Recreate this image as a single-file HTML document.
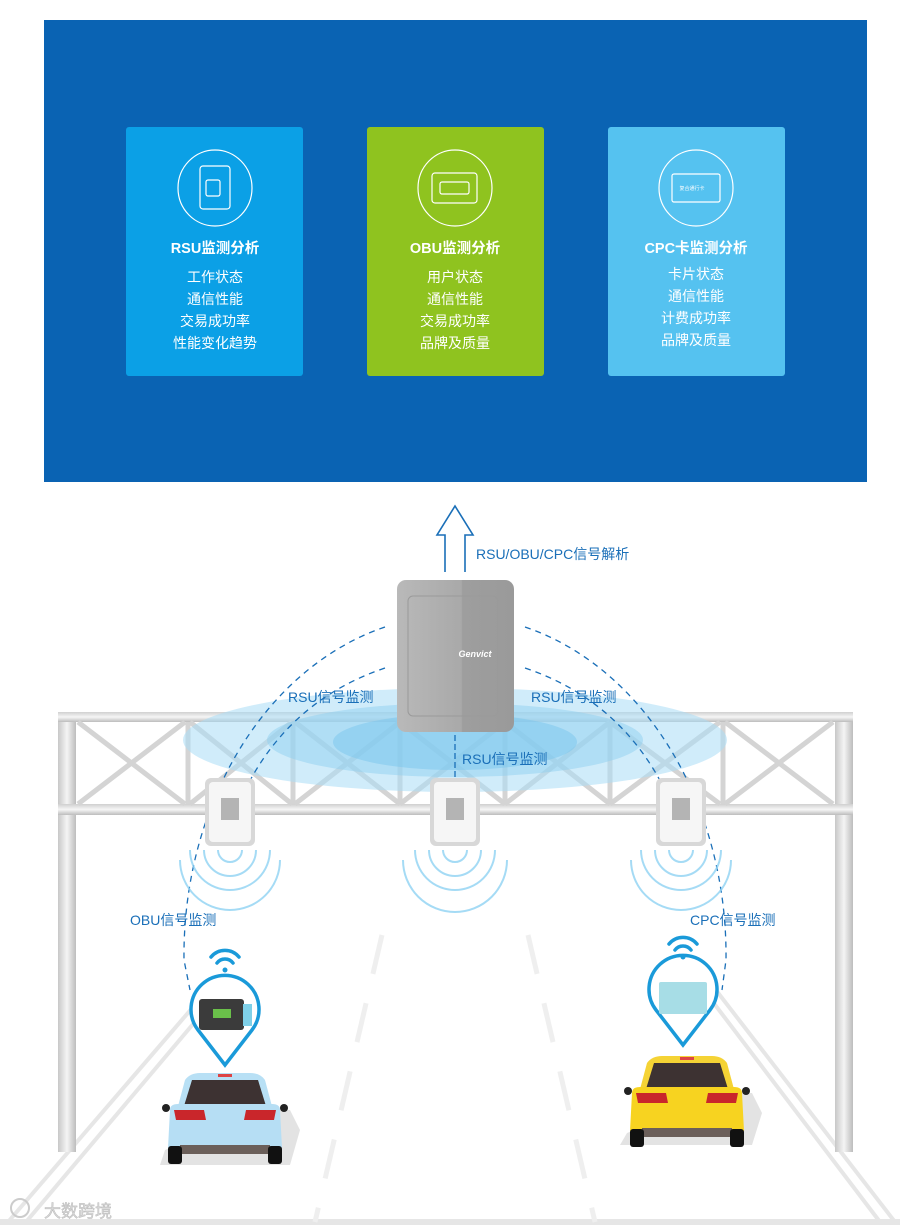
<!DOCTYPE html>
<html><head><meta charset="utf-8"><style>
html,body{margin:0;padding:0;background:#fff;}
svg{display:block;}
text{font-family:"Liberation Sans","Noto Sans CJK SC",sans-serif;}
</style></head><body>
<svg width="900" height="1227" viewBox="0 0 900 1227" xmlns="http://www.w3.org/2000/svg">
<defs>
<linearGradient id="dev" x1="0" y1="0" x2="1" y2="0">
<stop offset="0" stop-color="#b9b9b9"/><stop offset="0.55" stop-color="#a9a9a9"/><stop offset="0.56" stop-color="#9e9e9e"/><stop offset="1" stop-color="#9a9a9a"/>
</linearGradient>
<linearGradient id="post" x1="0" y1="0" x2="1" y2="0">
<stop offset="0" stop-color="#c8c8c8"/><stop offset="0.5" stop-color="#f4f4f4"/><stop offset="1" stop-color="#bdbdbd"/>
</linearGradient>
<linearGradient id="beam" x1="0" y1="0" x2="0" y2="1">
<stop offset="0" stop-color="#d0d0d0"/><stop offset="0.5" stop-color="#f6f6f6"/><stop offset="1" stop-color="#bcbcbc"/>
</linearGradient>
</defs>

<rect x="44" y="20" width="823" height="462" fill="#0a63b3"/>
<rect x="126" y="127" width="177" height="249" rx="3" fill="#0ba0e6"/>
<rect x="367" y="127" width="177" height="249" rx="3" fill="#8fc31f"/>
<rect x="608" y="127" width="177" height="249" rx="3" fill="#55c2f0"/>
<g fill="none" stroke="#fff" stroke-width="1.2">
<ellipse cx="215" cy="188" rx="37" ry="38"/>
<ellipse cx="455" cy="188" rx="37" ry="38"/>
<ellipse cx="696" cy="188" rx="37" ry="38"/>
<rect x="200" y="166" width="30" height="43" rx="3"/>
<rect x="206" y="180" width="14" height="16" rx="2"/>
<rect x="432" y="173" width="45" height="30" rx="3"/>
<rect x="440" y="182" width="29" height="12" rx="2"/>
<rect x="672" y="174" width="48" height="28" rx="2"/>
</g>
<text x="692" y="190" font-size="5" fill="#fff" text-anchor="middle">复合通行卡</text>
<g fill="#fff" text-anchor="middle">
<text x="215" y="253" font-size="14.5" font-weight="bold">RSU监测分析</text>
<text x="215" y="282" font-size="14">工作状态</text>
<text x="215" y="304" font-size="14">通信性能</text>
<text x="215" y="326" font-size="14">交易成功率</text>
<text x="215" y="348" font-size="14">性能变化趋势</text>
<text x="455" y="253" font-size="14.5" font-weight="bold">OBU监测分析</text>
<text x="455" y="282" font-size="14">用户状态</text>
<text x="455" y="304" font-size="14">通信性能</text>
<text x="455" y="326" font-size="14">交易成功率</text>
<text x="455" y="348" font-size="14">品牌及质量</text>
<text x="696" y="253" font-size="14.5" font-weight="bold">CPC卡监测分析</text>
<text x="696" y="279" font-size="14">卡片状态</text>
<text x="696" y="301" font-size="14">通信性能</text>
<text x="696" y="323" font-size="14">计费成功率</text>
<text x="696" y="345" font-size="14">品牌及质量</text>
</g>

<path d="M445,572 L445,535 L437,535 L455,506 L473,535 L465,535 L465,572" fill="none" stroke="#1a6fb8" stroke-width="1.6"/>
<text x="476" y="559" font-size="14" fill="#1a6fb8">RSU/OBU/CPC信号解析</text>

<g stroke="#e6e6e6" stroke-width="4" fill="none">
<path d="M212,985 L8,1222"/><path d="M226,985 L26,1222"/>
<path d="M700,985 L880,1222"/><path d="M712,985 L895,1222"/>
<path d="M0,1222 L900,1222" stroke-width="6"/>
<path d="M382,935 L315,1222" stroke-dasharray="40,30" stroke="#efefef" stroke-width="5"/>
<path d="M528,935 L595,1222" stroke-dasharray="40,30" stroke="#efefef" stroke-width="5"/>
</g>

<rect x="58" y="712" width="18" height="440" fill="url(#post)"/>
<rect x="835" y="712" width="18" height="440" fill="url(#post)"/>
<rect x="58" y="712" width="795" height="10" fill="url(#beam)"/>
<rect x="58" y="804" width="795" height="11" fill="url(#beam)"/>
<g stroke="#d4d4d4" stroke-width="5">
<path d="M78,722 L185,804 M185,722 L78,804"/>
<path d="M190,722 L292,804 M292,722 L190,804"/>
<path d="M295,722 L400,804 M400,722 L295,804"/>
<path d="M400,722 L505,804 M505,722 L400,804"/>
<path d="M505,722 L610,804 M610,722 L505,804"/>
<path d="M610,722 L720,804 M720,722 L610,804"/>
<path d="M725,722 L833,804 M833,722 L725,804"/>
<path d="M188,722 V804 M293,722 V804 M400,722 V804 M505,722 V804 M610,722 V804 M723,722 V804"/>
</g>

<ellipse cx="455" cy="740" rx="272" ry="52" fill="#a9dcf5" opacity="0.55"/>
<ellipse cx="455" cy="740" rx="188" ry="37" fill="#8fd0f0" opacity="0.5"/>
<ellipse cx="455" cy="742" rx="122" ry="28" fill="#79c6ee" opacity="0.5"/>

<g fill="none" stroke="#1a6fb8" stroke-width="1.3" stroke-dasharray="6,5">
<path d="M385,627 A272,340 0 0 0 184,960 L190,990"/>
<path d="M525,627 A272,340 0 0 1 726,960 L722,990"/>
<path d="M385,668 Q290,700 245,790"/>
<path d="M525,668 Q620,700 665,790"/>
<path d="M455,735 V785" stroke-dasharray="6,3"/>
</g>

<rect x="397" y="580" width="117" height="152" rx="9" fill="url(#dev)"/>
<rect x="408" y="596" width="90" height="120" rx="5" fill="none" stroke="#9a9a9a" stroke-width="1"/>
<text x="475" y="657" font-size="9" font-style="italic" font-weight="bold" fill="#fff" text-anchor="middle">Genvict</text>

<g id="r1">
<rect x="205" y="778" width="50" height="68" rx="6" fill="#d8d8d8"/>
<rect x="209" y="782" width="42" height="60" rx="4" fill="#f6f6f6"/>
<rect x="221" y="798" width="18" height="22" fill="#b4b4b4"/>
</g>
<use href="#r1" x="225"/><use href="#r1" x="451"/>

<g fill="none" stroke="#8fd2f2" stroke-width="2" opacity="0.8">
<path d="M218,850 A12,12 0 0 0 242,850 M204,850 A26,26 0 0 0 256,850 M190,850 A40,40 0 0 0 270,850 M180,860 A50,50 0 0 0 280,860"/>
<path d="M443,850 A12,12 0 0 0 467,850 M429,850 A26,26 0 0 0 481,850 M415,850 A40,40 0 0 0 495,850 M403,860 A52,52 0 0 0 507,860"/>
<path d="M669,850 A12,12 0 0 0 693,850 M655,850 A26,26 0 0 0 707,850 M641,850 A40,40 0 0 0 721,850 M631,860 A50,50 0 0 0 731,860"/>
</g>

<g fill="#1a6fb8" font-size="14">
<text x="288" y="702">RSU信号监测</text>
<text x="531" y="702">RSU信号监测</text>
<text x="462" y="764">RSU信号监测</text>
<text x="130" y="925">OBU信号监测</text>
<text x="690" y="925">CPC信号监测</text>
</g>

<g fill="none" stroke="#1a9ad9" stroke-width="3.5">
<path d="M225,1065 L198,1030 A34,34 0 1 1 252,1030 Z" fill="#fff"/>
<path d="M683,1045 L656,1010 A34,34 0 1 1 710,1010 Z" fill="#fff"/>
</g>
<g fill="none" stroke="#1a9ad9" stroke-width="3.5" stroke-linecap="round">
<path d="M217,963 A10,10 0 0 1 233,963 M211,957 A18,18 0 0 1 239,957"/>
<path d="M675,950 A10,10 0 0 1 691,950 M669,944 A18,18 0 0 1 697,944"/>
</g>
<circle cx="225" cy="970" r="2.5" fill="#1a9ad9"/><circle cx="683" cy="957" r="2.5" fill="#1a9ad9"/>
<rect x="199" y="999" width="45" height="31" rx="3" fill="#3b3b3b"/>
<rect x="243" y="1004" width="9" height="22" fill="#7fd0e8"/>
<rect x="213" y="1009" width="18" height="9" fill="#6ac04a"/>
<rect x="659" y="982" width="48" height="32" rx="2" fill="#a7dde6"/>

<g transform="translate(160,1070)">
<polygon points="110,40 130,40 140,60 130,95 0,95 5,80" fill="#e3e3e3"/>
<path d="M25,10 Q30,3 40,3 L90,3 Q100,3 105,10 L113,40 L17,40 Z" fill="#b8e0f5"/>
<path d="M32,10 L98,10 L106,36 L24,36 Z" fill="#3d3232"/>
<rect x="58" y="4" width="14" height="3" fill="#d44"/>
<path d="M10,40 Q10,34 18,34 L112,34 Q120,34 120,40 L122,78 L8,78 Z" fill="#b6def4"/>
<path d="M14,40 L44,40 L46,50 L16,50 Z M86,40 L116,40 L114,50 L84,50 Z" fill="#c9262b"/>
<circle cx="6" cy="38" r="4" fill="#222"/><circle cx="124" cy="38" r="4" fill="#222"/>
<rect x="20" y="75" width="90" height="9" fill="#6b5f5a"/>
<rect x="8" y="76" width="14" height="18" rx="3" fill="#111"/>
<rect x="108" y="76" width="14" height="18" rx="3" fill="#111"/>
</g>
<g transform="translate(622,1053)">
<polygon points="110,40 130,40 140,60 130,92 -2,92 5,80" fill="#e3e3e3"/>
<path d="M25,10 Q30,3 40,3 L90,3 Q100,3 105,10 L113,40 L17,40 Z" fill="#f5d335"/>
<path d="M32,10 L98,10 L106,36 L24,36 Z" fill="#3d3232"/>
<rect x="58" y="4" width="14" height="3" fill="#d44"/>
<path d="M10,40 Q10,34 18,34 L112,34 Q120,34 120,40 L122,78 L8,78 Z" fill="#f7d320"/>
<path d="M14,40 L44,40 L46,50 L16,50 Z M86,40 L116,40 L114,50 L84,50 Z" fill="#c9262b"/>
<circle cx="6" cy="38" r="4" fill="#222"/><circle cx="124" cy="38" r="4" fill="#222"/>
<rect x="20" y="75" width="90" height="9" fill="#6b5f5a"/>
<rect x="8" y="76" width="14" height="18" rx="3" fill="#111"/>
<rect x="108" y="76" width="14" height="18" rx="3" fill="#111"/>
</g>

<text x="44" y="1217" font-size="17" fill="#d8d8d8" stroke="#bbb" stroke-width="0.5">大数跨境</text>
<circle cx="20" cy="1208" r="9" fill="none" stroke="#ccc" stroke-width="2"/>
</svg>
</body></html>
